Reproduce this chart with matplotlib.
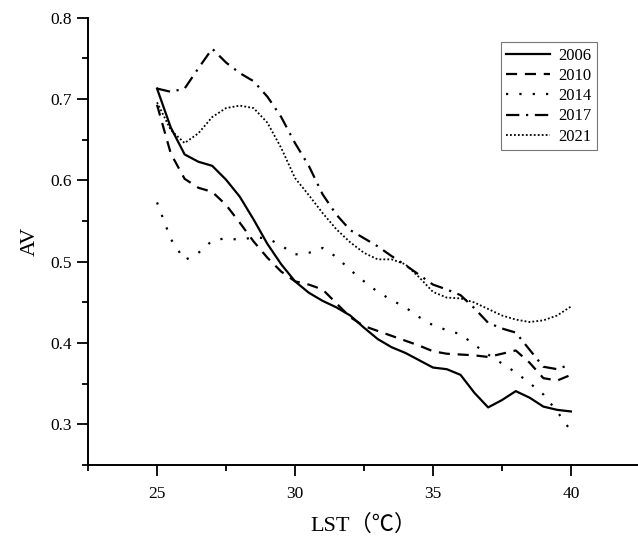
import matplotlib
matplotlib.use('Agg')
import matplotlib.pyplot as plt
from matplotlib.ticker import MultipleLocator

plt.rcParams['font.family'] = ['Liberation Serif', 'Noto Sans CJK SC', 'DejaVu Sans']

# LST values (every 0.5 degree)
lst = [25 + 0.5 * i for i in range(31)]

av_2006 = [0.713, 0.665, 0.632, 0.623, 0.618, 0.601, 0.580, 0.552, 0.522, 0.497,
           0.476, 0.462, 0.452, 0.444, 0.434, 0.419, 0.405, 0.395, 0.388, 0.379,
           0.370, 0.368, 0.361, 0.339, 0.321, 0.330, 0.341, 0.333, 0.322, 0.318, 0.316]
av_2010 = [0.693, 0.633, 0.602, 0.591, 0.586, 0.570, 0.548, 0.525, 0.505, 0.488,
           0.476, 0.472, 0.466, 0.449, 0.432, 0.421, 0.415, 0.409, 0.403, 0.397,
           0.390, 0.387, 0.386, 0.385, 0.383, 0.387, 0.391, 0.376, 0.357, 0.354, 0.361]
av_2014 = [0.573, 0.528, 0.502, 0.511, 0.526, 0.529, 0.527, 0.530, 0.529, 0.520,
           0.509, 0.511, 0.517, 0.506, 0.490, 0.476, 0.463, 0.453, 0.444, 0.432,
           0.422, 0.416, 0.411, 0.398, 0.386, 0.375, 0.364, 0.351, 0.337, 0.316, 0.292]
av_2017 = [0.713, 0.709, 0.713, 0.738, 0.762, 0.745, 0.732, 0.722, 0.703, 0.678,
           0.646, 0.618, 0.583, 0.558, 0.539, 0.529, 0.519, 0.507, 0.496, 0.484,
           0.472, 0.466, 0.459, 0.443, 0.425, 0.418, 0.413, 0.392, 0.371, 0.368, 0.374]
av_2021 = [0.696, 0.662, 0.646, 0.658, 0.678, 0.689, 0.692, 0.689, 0.671, 0.640,
           0.603, 0.582, 0.560, 0.540, 0.524, 0.511, 0.503, 0.503, 0.497, 0.481,
           0.463, 0.456, 0.455, 0.450, 0.442, 0.434, 0.429, 0.426, 0.428, 0.434, 0.445]

series = [
    ('2006', av_2006, dict(linestyle='-', linewidth=1.6)),
    ('2010', av_2010, dict(linestyle=(0, (5, 3.5)), linewidth=1.6)),
    ('2014', av_2014, dict(linestyle=(0, (1, 5)), linewidth=1.6)),
    ('2017', av_2017, dict(linestyle=(0, (6, 3, 1, 3)), linewidth=1.6)),
    ('2021', av_2021, dict(linestyle=(0, (1, 1.2)), linewidth=1.3)),
]

fig = plt.figure(figsize=(6.38, 5.39), dpi=100)
ax = fig.add_axes([0.138, 0.137, 0.865, 0.830])

for name, vals, style in series:
    ax.plot(lst, vals, color='black', label=name,
            solid_joinstyle='round', dash_joinstyle='round', **style)

ax.set_xlim(22.5, 42.5)
ax.set_ylim(0.25, 0.8)
ax.xaxis.set_major_locator(MultipleLocator(5))
ax.xaxis.set_minor_locator(MultipleLocator(2.5))
ax.yaxis.set_major_locator(MultipleLocator(0.1))
ax.yaxis.set_minor_locator(MultipleLocator(0.05))
ax.yaxis.set_major_formatter(matplotlib.ticker.FormatStrFormatter('%.1f'))

ax.spines['top'].set_visible(False)
ax.spines['right'].set_visible(False)
ax.spines['left'].set_linewidth(1.4)
ax.spines['bottom'].set_linewidth(1.4)
ax.tick_params(which='major', direction='out', length=8, width=1.3, labelsize=12.5)
ax.tick_params(axis='x', which='major', pad=7)
ax.tick_params(which='minor', direction='out', length=4, width=1.3)

ax.set_xlabel('LST（℃）', fontsize=16, labelpad=9)
ax.set_ylabel('AV', fontsize=16, labelpad=8)

leg = ax.legend(loc='upper right', bbox_to_anchor=(0.936, 0.922),
                bbox_transform=fig.transFigure, fontsize=12, frameon=True,
                fancybox=False, handlelength=2.6, handletextpad=0.5,
                borderpad=0.35, labelspacing=0.25, borderaxespad=0)
leg.get_frame().set_edgecolor('#555555')
leg.get_frame().set_linewidth(0.8)

fig.savefig('out.png', dpi=100)
